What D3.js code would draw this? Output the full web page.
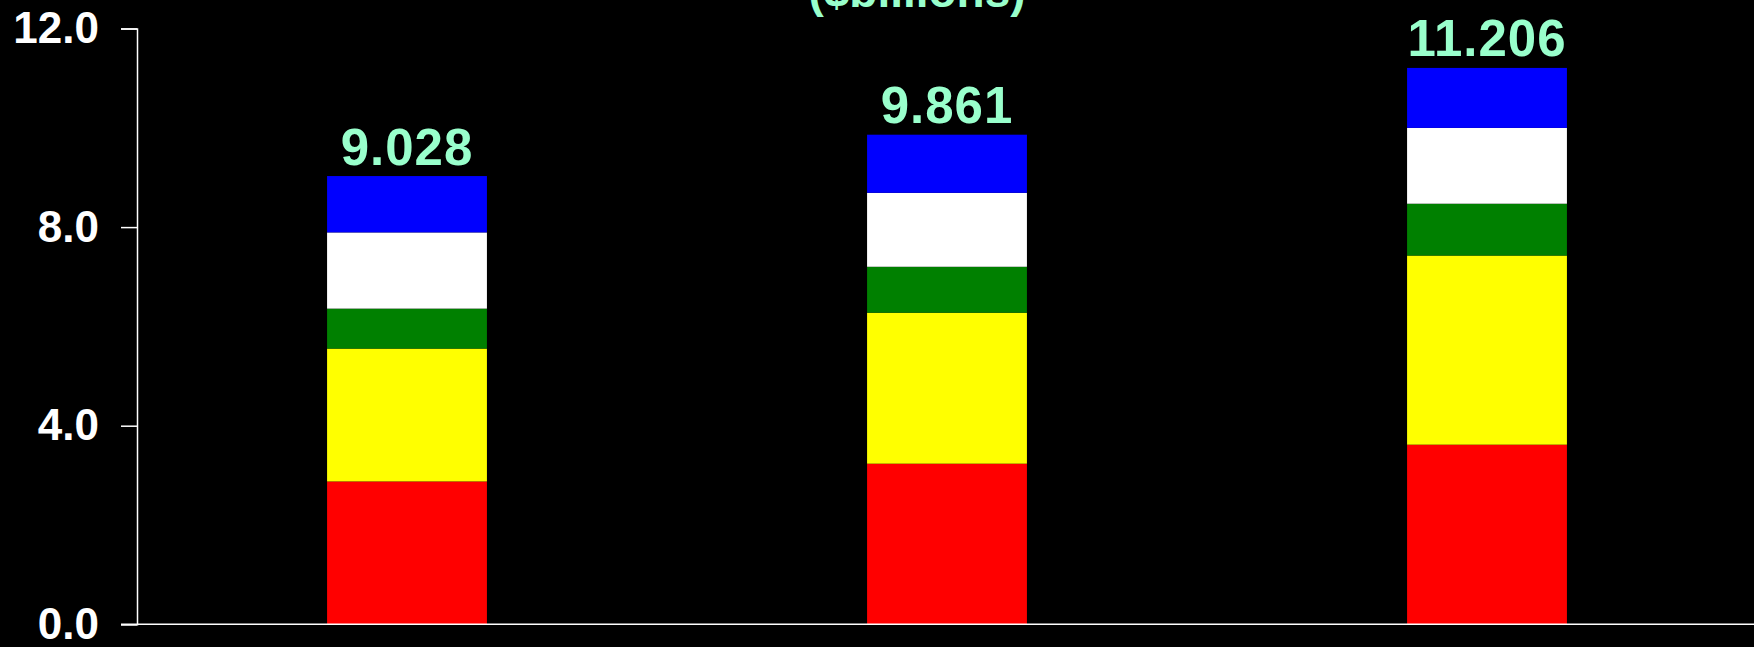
<!DOCTYPE html>
<html>
<head>
<meta charset="utf-8">
<script src="https://cdn.jsdelivr.net/npm/d3@7"></script>
<style>
  html, body { margin: 0; padding: 0; background: #000; }
  svg { display: block; }
  text { font-family: "Liberation Sans", Arial, sans-serif; font-weight: bold; }
</style>
</head>
<body>
<script>
// values, $billions
var categories = ["Bar 1", "Bar 2", "Bar 3"];
var seriesNames = ["red", "yellow", "green", "white", "blue"];
var redVals = [2.877, 3.235, 3.618];
var yellowVals = [2.676, 3.041, 3.809];
var greenVals = [0.805, 0.925, 1.044];
var whiteVals = [1.535, 1.489, 1.527];
var blueVals = [1.135, 1.171, 1.208];
var totalLabels = ["9.028", "9.861", "11.206"];
var yTicks = [0, 4, 8, 12];
var titleText = "($billions)";

var seriesColors = ["#FF0000", "#FFFF00", "#008000", "#FFFFFF", "#0000FF"];

var width = 1754, height = 647;

var svg = d3.select("body").append("svg")
    .attr("width", width)
    .attr("height", height);

svg.append("rect")
    .attr("width", width)
    .attr("height", height)
    .attr("fill", "#000");

// build rows for d3.stack
var rows = categories.map(function(c, i){
    return {
        cat: c,
        red: redVals[i],
        yellow: yellowVals[i],
        green: greenVals[i],
        white: whiteVals[i],
        blue: blueVals[i],
        label: totalLabels[i]
    };
});

var stacked = d3.stack().keys(seriesNames)(rows);

var yScale = d3.scaleLinear()
    .domain([0, 12])
    .range([624.3, 28.5]);

var xScale = d3.scaleBand()
    .domain(categories)
    .range([137, 1757])
    .paddingInner(0.704)
    .paddingOuter(0.352);

var color = d3.scaleOrdinal()
    .domain(seriesNames)
    .range(seriesColors);

// title (cut off at the top edge, as in the original)
svg.append("text")
    .attr("x", 917)
    .attr("y", 6.5)
    .attr("text-anchor", "middle")
    .attr("fill", "#99FFCC")
    .style("font-size", "46px")
    .text(titleText);

svg.append("g")
    .selectAll("g")
    .data(stacked)
    .enter()
    .append("g")
    .attr("fill", function(d){ return color(d.key); })
    .selectAll("rect")
    .data(function(d){ return d; })
    .enter()
    .append("rect")
    .attr("x", function(d){ return xScale(d.data.cat); })
    .attr("y", function(d){ return yScale(d[1]); })
    .attr("height", function(d){ return yScale(d[0]) - yScale(d[1]); })
    .attr("width", xScale.bandwidth());

// totals above bars
svg.append("g")
    .selectAll("text")
    .data(rows)
    .enter()
    .append("text")
    .attr("x", function(d){ return xScale(d.cat) + xScale.bandwidth() / 2; })
    .attr("y", function(d){ return yScale(+d.label) - 11.5; })
    .attr("text-anchor", "middle")
    .attr("fill", "#99FFCC")
    .style("font-size", "51px")
    .style("letter-spacing", "1px")
    .text(function(d){ return d.label; });

var yAxis = d3.axisLeft(yScale)
    .tickValues(yTicks)
    .tickFormat(d3.format(".1f"))
    .tickSize(16)
    .tickPadding(22);

var gy = svg.append("g")
    .attr("transform", "translate(137,0)")
    .call(yAxis);

gy.selectAll("path, line")
    .attr("stroke", "#fff")
    .attr("stroke-width", 1.5);
gy.selectAll("text")
    .attr("fill", "#fff")
    .style("font-size", "44px")
    .style("font-family", "'Liberation Sans', Arial, sans-serif")
    .style("font-weight", "bold");

// baseline along the bottom
svg.append("line")
    .attr("x1", 121)
    .attr("x2", width)
    .attr("y1", yScale(0))
    .attr("y2", yScale(0))
    .attr("stroke", "#fff")
    .attr("stroke-width", 1.5);
</script>
</body>
</html>
